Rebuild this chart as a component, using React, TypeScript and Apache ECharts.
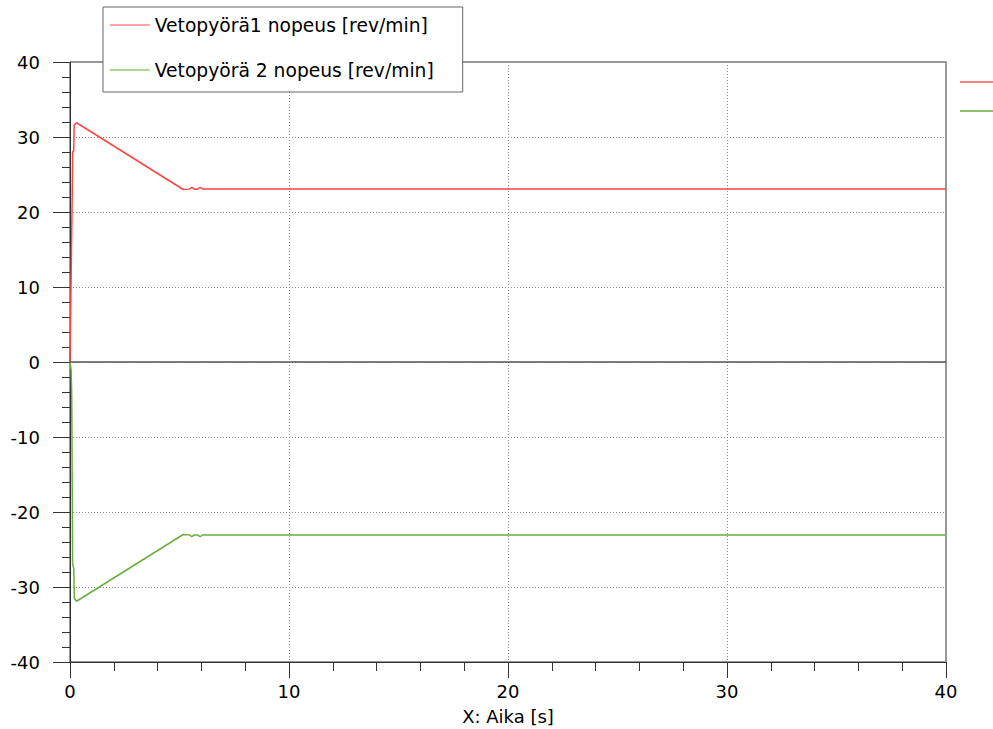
import React, { useEffect, useRef } from 'react';
import * as echarts from 'echarts';

const seriesNames = ['Vetopyörä1 nopeus [rev/min]', 'Vetopyörä 2 nopeus [rev/min]'];

const redTime = [0, 0.1, 0.12, 0.17, 0.19, 0.3, 5.17, 5.45, 5.56, 5.67, 5.83, 5.94, 6.05, 40];
const redValues = [0, 22, 28, 28.2, 31.6, 31.9, 23.0, 23.05, 23.3, 23.05, 23.05, 23.3, 23.07, 23.07];

const greenTime = [0, 0.05, 0.08, 0.12, 0.17, 0.2, 0.3, 5.17, 5.45, 5.56, 5.67, 5.83, 5.94, 6.05, 40];
const greenValues = [0, -1, -4.5, -27, -27.5, -31.5, -31.9, -23.0, -23.05, -23.3, -23.05, -23.05, -23.3, -23.07, -23.07];

const xMin = 0;
const xMax = 40;
const xInterval = 10;
const yMin = -40;
const yMax = 40;
const yInterval = 10;

const zip = (t: number[], v: number[]) => t.map((x, i) => [x, v[i]]);

export default function App() {
  const ref = useRef<HTMLDivElement>(null);
  useEffect(() => {
    const chart = echarts.init(ref.current!, null, { renderer: 'svg' });
    const font = 'DejaVu Sans';
    const axisColor = '#333';
    chart.setOption({
      animation: false,
      backgroundColor: '#fff',
      textStyle: { fontFamily: font },
      grid: {
        left: 70, top: 62, width: 876, height: 600,
        outerBoundsMode: 'none', containLabel: false,
        show: true, borderColor: axisColor, borderWidth: 1, backgroundColor: 'transparent',
      },
      legend: {
        orient: 'vertical', left: 103, top: 7,
        padding: [8, 29, 12, 6], itemGap: 25, itemWidth: 40, itemHeight: 20,
        backgroundColor: '#fff', borderColor: '#666', borderWidth: 1,
        textStyle: { fontSize: 18.7, color: '#000', fontFamily: font, lineHeight: 20 },
        data: [
          { name: seriesNames[0], itemStyle: { opacity: 0 }, lineStyle: { color: '#ff8585', width: 1.5 } },
          { name: seriesNames[1], itemStyle: { opacity: 0 }, lineStyle: { color: '#94c874', width: 1.5 } },
        ],
      },
      xAxis: {
        type: 'value', min: xMin, max: xMax, interval: xInterval,
        name: 'X: Aika [s]', nameLocation: 'middle', nameGap: 45,
        nameTextStyle: { fontSize: 18, color: '#000', fontFamily: font },
        axisLine: { show: true, onZero: false, lineStyle: { color: axisColor } },
        axisTick: { show: true, length: 16, lineStyle: { color: axisColor } },
        minorTick: { show: true, splitNumber: 5, length: 9, lineStyle: { color: axisColor } },
        axisLabel: { fontSize: 18, color: '#000', margin: 20, fontFamily: font },
        splitLine: { show: true, showMinLine: false, showMaxLine: false, lineStyle: { type: [1, 2], color: '#888' } },
      },
      yAxis: [
        {
          type: 'value', min: yMin, max: yMax, interval: yInterval,
          axisLine: { show: true, onZero: false, lineStyle: { color: axisColor } },
          axisTick: { show: true, length: 17, lineStyle: { color: axisColor } },
          minorTick: { show: true, splitNumber: 5, length: 8, lineStyle: { color: axisColor } },
          axisLabel: { fontSize: 18, color: '#000', margin: 30, fontFamily: font },
          splitLine: { show: true, showMinLine: false, showMaxLine: false, lineStyle: { type: [1, 2], color: '#888' } },
        },
        {
          type: 'value', min: yMin, max: yMax, interval: yInterval, position: 'right',
          axisLine: { show: true, onZero: false, lineStyle: { color: '#999', width: 2 } },
          axisTick: { show: false }, axisLabel: { show: false }, splitLine: { show: false },
        },
      ],
      series: [
        {
          name: seriesNames[0], type: 'line', data: zip(redTime, redValues),
          symbol: 'none', lineStyle: { color: '#ff4444', width: 1.5 }, itemStyle: { color: '#ff4444' },
          z: 3,
          markLine: {
            silent: true, symbol: 'none', label: { show: false },
            lineStyle: { color: '#555', type: 'solid', width: 1.5 },
            data: [{ yAxis: 0 }],
          },
        },
        {
          name: seriesNames[1], type: 'line', data: zip(greenTime, greenValues),
          symbol: 'none', lineStyle: { color: '#6aae3e', width: 1.5 }, itemStyle: { color: '#6aae3e' },
          z: 3,
        },
      ],
      graphic: [
        { type: 'line', shape: { x1: 960, y1: 82, x2: 993, y2: 82 }, style: { stroke: '#ff8080', lineWidth: 2 } },
        { type: 'line', shape: { x1: 960, y1: 111, x2: 993, y2: 111 }, style: { stroke: '#8dc26d', lineWidth: 2 } },
      ],
    });
    return () => chart.dispose();
  }, []);
  return (
    <div
      ref={ref}
      style={{ position: 'fixed', left: 0, top: 0, width: 993, height: 729, background: '#fff' }}
    />
  );
}
